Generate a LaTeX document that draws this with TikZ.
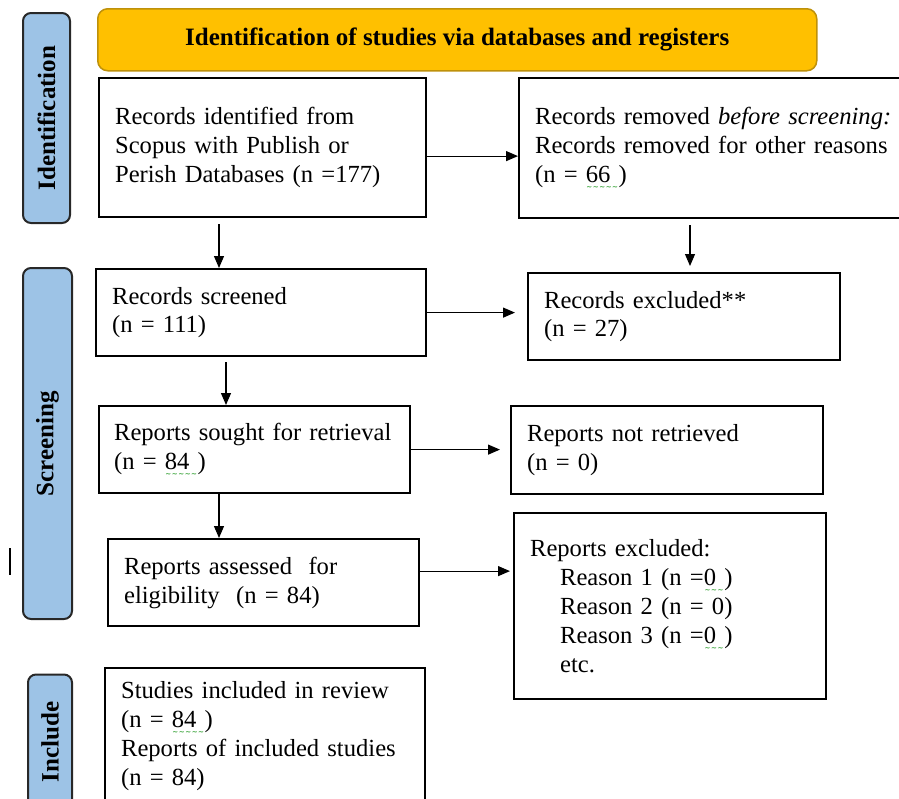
\documentclass[tikz,border=0pt]{standalone}
\usepackage{fontspec}
\setmainfont{Liberation Serif}
\newfontfamily\wavesym{DejaVu Sans}
\usepackage{tikz}
\usetikzlibrary{positioning}
\usetikzlibrary{arrows.meta}
\definecolor{tabblue}{RGB}{157,195,230}
\definecolor{tabrim}{RGB}{40,40,40}
\definecolor{headgold}{RGB}{255,192,0}
\definecolor{headrim}{RGB}{190,145,10}
\definecolor{spellgreen}{RGB}{50,160,50}
\hyphenpenalty=10000
% green spell-check wave under a word
\newcommand{\spellwave}[1]{\setbox0\hbox{#1}\rlap{\textcolor{spellgreen}{\lower7pt\hbox to \wd0{\wavesym\fontsize{7pt}{7pt}\selectfont\bfseries\xleaders\hbox{\char"223C}\hfil}}}\box0}

\begin{document}
\begin{tikzpicture}[
            x = 1pt, y = -1pt, % pixel grid
            > = {Triangle[length=12pt,width=10pt]}, % arrow head style
            semithick % line style
        ]

        \tikzstyle{stage}=[
            draw,
            line width = 2.2pt,
            rectangle,
            anchor = north west,
            align = left,
            inner xsep = 16pt,
            inner ysep = 0pt,
            font = \fontsize{24.6pt}{28.8pt}\selectfont
        ]
        \tikzstyle{phase}=[
            draw = tabrim,
            fill = tabblue,
            line width = 2pt,
            rounded corners = 8pt,
            rotate = 90,
            inner sep = 0pt,
            font = \fontsize{25pt}{28.8pt}\selectfont\bfseries
        ]
        \tikzstyle{flow}=[->, line width = 1.1pt]

        \useasboundingbox (0,0) rectangle (899,798);
        \clip (0,0) rectangle (899,798);

        % heading
        \node[draw = headrim, fill = headgold, line width = 1.5pt, rounded corners = 10pt,
              anchor = north west, minimum width = 719pt, minimum height = 62pt,
              font = \fontsize{25pt}{28.8pt}\selectfont\bfseries] (hdr) at (97,8)
              {Identification of studies via databases and registers};

        % phases
        \node[phase, minimum width = 210pt, minimum height = 47pt] (pid) at (46.5,118) {Identification};
        \node[phase, minimum width = 351pt, minimum height = 49pt] (pscr) at (47.5,443.5) {Screening};
        \node[phase, minimum width = 135pt, minimum height = 44pt] (pinc) at (50,742) {Include};

        % identification
        \node[stage, text width = 295pt, minimum height = 139pt] (idn) at (98,77)
              {Records identified from\\Scopus with Publish or\\Perish Databases (n =177)};
        \node[stage, text width = 375pt, minimum height = 140pt] (rem) at (518,77)
              {Records removed \textit{before screening:}\\Records removed for other reasons\\(n = \spellwave{66\ })};

        % screening
        \node[stage, text width = 298pt, minimum height = 87pt] (scr) at (95,268)
              {Records screened\\(n = 111)};
        \node[stage, text width = 280pt, minimum height = 87pt] (exc) at (527,272)
              {Records excluded**\\(n = 27)};
        \node[stage, text width = 281pt, minimum height = 87pt, inner xsep = 15pt] (sou) at (98,405)
              {Reports sought for retrieval\\(n = \spellwave{84\ })};
        \node[stage, text width = 280pt, minimum height = 88pt] (ret) at (510,405)
              {Reports not retrieved\\(n = 0)};
        \node[stage, text width = 279pt, minimum height = 87pt] (ass) at (107,538)
              {Reports assessed\ \ for\\eligibility\ \ (n = 84)};
        \node[stage, text width = 280pt, minimum height = 186pt] (rex) at (513,512)
              {Reports excluded:\\
               \hspace*{30pt}Reason 1 (n =\spellwave{0\ })\\
               \hspace*{30pt}Reason 2 (n = 0)\\
               \hspace*{30pt}Reason 3 (n =\spellwave{0\ })\\
               \hspace*{30pt}etc.};

        % included
        \node[stage, text width = 288pt, minimum height = 136pt] (inc) at (104,667)
              {Studies included in review\\(n = \spellwave{84\ })\\Reports of included studies\\(n = 84)};

        % connectors
        \coordinate (a1) at ([yshift=-8.5pt]idn.east);
        \draw[flow] (a1) -- (a1 -| rem.west);
        \coordinate (a2) at ([xshift=121pt]idn.south west);
        \draw[flow, shorten <= 6pt] (a2) -- (a2 |- scr.north);
        \coordinate (a3) at ([xshift=172pt]rem.south west);
        \draw[flow, shorten <= 6pt, shorten >= 6pt] (a3) -- (a3 |- exc.north);
        \draw[flow, shorten >= 12pt] (scr.east) -- (scr.east -| exc.west);
        \coordinate (a4) at ([xshift=131pt]scr.south west);
        \draw[flow, shorten <= 5pt] (a4) -- (a4 |- sou.north);
        \draw[flow, shorten >= 10pt] (sou.east) -- (sou.east -| ret.west);
        \coordinate (a5) at ([xshift=121pt]sou.south west);
        \draw[flow] (a5) -- (a5 |- ass.north);
        \coordinate (a6) at ([yshift=11.5pt]ass.east);
        \draw[flow, shorten >= 3pt] (a6) -- (a6 -| rex.west);

        % stray mark
        \draw[line width = 1.5pt] (10,548) -- (10,575);

  \end{tikzpicture}
\end{document}
